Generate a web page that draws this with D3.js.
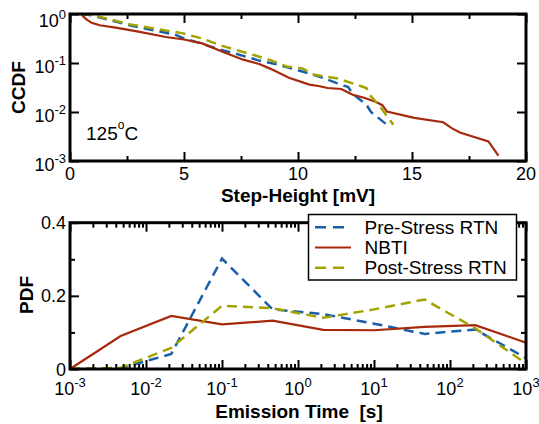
<!DOCTYPE html>
<html>
<head>
<meta charset="utf-8">
<script src="https://cdn.jsdelivr.net/npm/d3@7"></script>
<style>
  body { margin: 0; background: #fff; }
  svg { font-family: "Liberation Sans", Arial, Helvetica, sans-serif; }
</style>
</head>
<body>
<svg id="svg" width="539" height="424"></svg>
<script>
// ---- data: CCDF of step height (top) ----
var preStep  = [0.5, 1.0, 2.7, 4.6, 5.0, 5.6, 6.6, 7.2, 8.3, 9.0, 9.94, 10.96, 11.7, 12.2, 12.4, 13.0, 13.2, 13.9];
var preCcdf  = [1, 0.93, 0.575, 0.38, 0.316, 0.263, 0.186, 0.158, 0.112, 0.0955, 0.0724, 0.0525, 0.0389, 0.0324, 0.0234, 0.0141, 0.01, 0.0055];

var nbtiStep = [0.5, 0.6, 0.75, 0.95, 1.3, 2.0, 3.0, 4.2, 5.0, 5.8, 6.8, 7.6, 8.3, 8.8, 9.6, 10.5, 10.9, 11.3, 11.9, 12.2, 12.4, 12.9, 13.45, 13.7, 13.9, 15.1, 16.37, 16.74, 17.1, 18.35, 18.79];
var nbtiCcdf = [1, 0.871, 0.759, 0.661, 0.589, 0.525, 0.437, 0.339, 0.302, 0.251, 0.162, 0.117, 0.0955, 0.0759, 0.0501, 0.0363, 0.0339, 0.0309, 0.0295, 0.0251, 0.0224, 0.0195, 0.0158, 0.0138, 0.0102, 0.00759, 0.00617, 0.00468, 0.0038, 0.00251, 0.00129];

var postStep = [0.5, 1.0, 2.7, 4.9, 5.8, 6.6, 8.0, 8.77, 9.5, 10.2, 10.7, 11.7, 13.0, 13.16, 13.6, 14.18];
var postCcdf = [1, 0.95, 0.603, 0.407, 0.316, 0.229, 0.148, 0.115, 0.0851, 0.0776, 0.0575, 0.049, 0.0309, 0.0219, 0.0129, 0.0055];

// ---- data: PDF of emission time (bottom) ----
var emTime  = [0.001, 0.00464, 0.0215, 0.1, 0.464, 2.15, 10, 46.4, 215, 1000];
var prePdf  = [0, 0.002, 0.041, 0.302, 0.163, 0.15, 0.124, 0.096, 0.108, 0.03];
var nbtiPdf = [0, 0.09, 0.145, 0.122, 0.132, 0.107, 0.106, 0.115, 0.12, 0.072];
var postPdf = [0, 0.003, 0.058, 0.173, 0.166, 0.14, 0.163, 0.19, 0.111, 0.015];

var seriesNames = ["Pre-Stress RTN", "NBTI", "Post-Stress RTN"];
var colors = ["#1a5fa8", "#a8280c", "#a3a300"];
var dashes = ["10,6", null, "10,6"];

var stepMajor = [0, 5, 10, 15, 20], stepMinor = [2.5, 7.5, 12.5, 17.5];
var ccdfTicks = [1e-3, 1e-2, 1e-1, 1];
var timeTicks = [1e-3, 1e-2, 1e-1, 1, 10, 100, 1000];
var pdfMajor = [0, 0.2, 0.4], pdfMinor = [0.1, 0.3];

var svg = d3.select("#svg");

var x1 = d3.scaleLinear().domain([0, 20]).range([70, 526]);
var y1 = d3.scaleLog().domain([1e-3, 1]).range([161, 14]);
var x2 = d3.scaleLog().domain([1e-3, 1e3]).range([70, 526]);
var y2 = d3.scaleLinear().domain([0, 0.4]).range([369, 222.7]);

function zip(a, b) { return a.map(function(v, i) { return [v, b[i]]; }); }

// minor log ticks 2..9 per decade
var timeMinor = [];
timeTicks.slice(0, -1).forEach(function(d) {
    for (var k = 2; k <= 9; k++) timeMinor.push(d * k);
});

function ticks(g, axis) {
    g.call(axis);
    g.select(".domain").remove();
    g.selectAll(".tick line").attr("stroke", "#000").attr("stroke-width", 2);
}

function drawTicks(x, y, xMaj, xMin, yMaj, yMin, yMinSize) {
    var t = svg.append("g");
    var y0 = y.range()[0], yT = y.range()[1], x0 = x.range()[0], xR = x.range()[1];
    t.append("g").attr("transform", "translate(0," + y0 + ")")
        .call(ticks, d3.axisBottom(x).tickValues(xMaj).tickSize(-9).tickFormat(""));
    t.append("g").attr("transform", "translate(0," + yT + ")")
        .call(ticks, d3.axisTop(x).tickValues(xMaj).tickSize(-9).tickFormat(""));
    if (xMin) {
        t.append("g").attr("transform", "translate(0," + y0 + ")")
            .call(ticks, d3.axisBottom(x).tickValues(xMin).tickSize(-5).tickFormat(""));
        t.append("g").attr("transform", "translate(0," + yT + ")")
            .call(ticks, d3.axisTop(x).tickValues(xMin).tickSize(-5).tickFormat(""));
    }
    t.append("g").attr("transform", "translate(" + x0 + ",0)")
        .call(ticks, d3.axisLeft(y).tickValues(yMaj).tickSize(-9).tickFormat(""));
    t.append("g").attr("transform", "translate(" + xR + ",0)")
        .call(ticks, d3.axisRight(y).tickValues(yMaj).tickSize(-9).tickFormat(""));
    if (yMin) {
        t.append("g").attr("transform", "translate(" + x0 + ",0)")
            .call(ticks, d3.axisLeft(y).tickValues(yMin).tickSize(-yMinSize).tickFormat(""));
        t.append("g").attr("transform", "translate(" + xR + ",0)")
            .call(ticks, d3.axisRight(y).tickValues(yMin).tickSize(-yMinSize).tickFormat(""));
    }
    // frame
    svg.append("rect")
        .attr("x", x0).attr("y", yT)
        .attr("width", xR - x0).attr("height", y0 - yT)
        .attr("fill", "none").attr("stroke", "#000").attr("stroke-width", 3);
}

function powLabel(sel, d) {
    var e = Math.round(Math.log10(d));
    sel.append("tspan").text("10");
    sel.append("tspan").attr("dy", -8).style("font-size", "13px").text(e);
}

function drawLines(x, y, data) {
    var line = d3.line().x(function(d) { return x(d[0]); }).y(function(d) { return y(d[1]); });
    svg.append("g").selectAll("path")
        .data(data)
        .enter().append("path")
        .attr("d", function(d) { return line(d); })
        .attr("fill", "none")
        .attr("stroke", function(d, i) { return colors[i]; })
        .attr("stroke-width", function(d, i) { return dashes[i] ? 2.5 : 2.2; })
        .attr("stroke-dasharray", function(d, i) { return dashes[i]; });
}

// ---------- top panel ----------
drawLines(x1, y1, [zip(preStep, preCcdf), zip(nbtiStep, nbtiCcdf), zip(postStep, postCcdf)]);
drawTicks(x1, y1, stepMajor, stepMinor, ccdfTicks, null, 0);

svg.append("g").selectAll("text")
    .data(stepMajor).enter().append("text")
    .attr("x", function(d) { return x1(d); })
    .attr("y", 180)
    .attr("text-anchor", "middle")
    .style("font-size", "18px")
    .text(function(d) { return d; });

svg.append("g").selectAll("text")
    .data(ccdfTicks).enter().append("text")
    .attr("x", 66)
    .attr("y", function(d) { return Math.max(y1(d) + 9.5, 26.5); })
    .attr("text-anchor", "end")
    .style("font-size", "18px")
    .each(function(d) { powLabel(d3.select(this), d); });

var temp = svg.append("text").attr("x", 86).attr("y", 140).style("font-size", "19px");
temp.append("tspan").text("125");
temp.append("tspan").attr("dy", -11).style("font-size", "12px").text("o");
temp.append("tspan").attr("dy", 11).text("C");

svg.append("text")
    .attr("x", 298).attr("y", 201.5)
    .attr("text-anchor", "middle")
    .style("font-size", "19px").style("font-weight", "bold")
    .text("Step-Height [mV]");

svg.append("text")
    .attr("transform", "translate(25,87.5) rotate(-90)")
    .attr("text-anchor", "middle")
    .style("font-size", "19px").style("font-weight", "bold")
    .text("CCDF");

// ---------- bottom panel ----------
drawLines(x2, y2, [zip(emTime, prePdf), zip(emTime, nbtiPdf), zip(emTime, postPdf)]);
drawTicks(x2, y2, timeTicks, timeMinor, pdfMajor, pdfMinor, 5);

svg.append("g").selectAll("text")
    .data(timeTicks).enter().append("text")
    .attr("x", function(d) { return x2(d); })
    .attr("y", 395)
    .attr("text-anchor", "middle")
    .style("font-size", "18px")
    .each(function(d) { powLabel(d3.select(this), d); });

svg.append("g").selectAll("text")
    .data(pdfMajor).enter().append("text")
    .attr("x", 66)
    .attr("y", function(d) { return y2(d) + 6.5; })
    .attr("text-anchor", "end")
    .style("font-size", "18px")
    .text(function(d) { return d; });

svg.append("text")
    .attr("x", 299).attr("y", 418)
    .attr("text-anchor", "middle")
    .attr("xml:space", "preserve")
    .style("white-space", "pre")
    .style("font-size", "19px").style("font-weight", "bold")
    .text("Emission Time  [s]");

svg.append("text")
    .attr("transform", "translate(33,295) rotate(-90)")
    .attr("text-anchor", "middle")
    .style("font-size", "19px").style("font-weight", "bold")
    .text("PDF");

// legend
var legend = svg.append("g");
legend.append("rect")
    .attr("x", 308.5).attr("y", 214.5)
    .attr("width", 208).attr("height", 65.5)
    .attr("fill", "#fff").attr("stroke", "#000").attr("stroke-width", 1.5);

var entry = legend.selectAll("g.entry")
    .data(seriesNames).enter().append("g")
    .attr("class", "entry")
    .attr("transform", function(d, i) { return "translate(0," + (227.3 + i * 20.2) + ")"; });

entry.append("line")
    .attr("x1", 315).attr("x2", 351)
    .attr("stroke", function(d, i) { return colors[i]; })
    .attr("stroke-width", function(d, i) { return dashes[i] ? 2.5 : 2.2; })
    .attr("stroke-dasharray", function(d, i) { return dashes[i] ? "11,7" : null; });

entry.append("text")
    .attr("x", 364.5).attr("y", 6.7)
    .style("font-size", "19px")
    .text(function(d) { return d; });
</script>
</body>
</html>
